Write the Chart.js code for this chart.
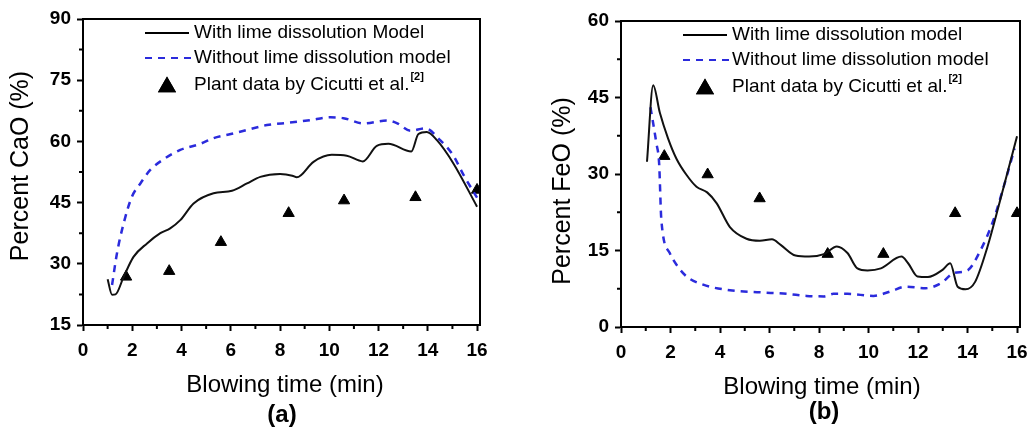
<!DOCTYPE html>
<html>
<head>
<meta charset="utf-8">
<script src="https://cdn.jsdelivr.net/npm/chart.js@4.4.1/dist/chart.umd.min.js"></script>
<style>
  html, body { margin: 0; padding: 0; background: #fff; overflow: hidden; width: 1027px; height: 431px; }
  canvas { position: absolute; top: 0; }
  #chartA { left: 0; }
  #chartB { left: 514px; }
</style>
</head>
<body>
<canvas id="chartA" width="513" height="431"></canvas>
<canvas id="chartB" width="540" height="431"></canvas>
<script>
// blowing time of the plant samples (min)
var plantTime = [1.75, 3.5, 5.6, 8.35, 10.6, 13.5, 16.0];

// (a) CaO
var withTimeA = [1.0, 1.18, 1.32, 1.65, 2.05, 2.6, 3.14, 3.54, 3.95, 4.49, 5.3, 6.05, 6.66, 7.2, 8.0, 8.5, 8.68, 9.36, 10.1, 10.71, 11.36, 11.93, 12.4, 13.33, 13.62, 13.96, 14.37, 15.04, 16.0];
var withCaO   = [26.2, 22.4, 22.5, 26.8, 31.7, 35.0, 37.5, 38.7, 40.7, 44.8, 47.3, 47.9, 49.7, 51.3, 52.0, 51.6, 51.2, 55.0, 56.7, 56.5, 55.1, 58.9, 59.4, 57.5, 61.8, 62.3, 60.3, 54.6, 44.0];
var noTimeA = [1.18, 1.38, 1.65, 1.99, 2.33, 2.73, 3.27, 3.95, 4.76, 5.3, 6.0, 6.66, 7.47, 8.4, 9.2, 10.04, 10.58, 11.39, 12.34, 12.74, 13.3, 13.9, 14.5, 15.04, 15.45, 16.0];
var noCaO   = [24.8, 32.6, 39.9, 46.5, 49.7, 53.0, 55.6, 57.9, 59.4, 60.8, 61.8, 62.8, 64.0, 64.6, 65.2, 65.9, 65.7, 64.4, 65.1, 64.5, 62.6, 63.2, 60.3, 56.5, 51.8, 46.2];
var plantCaO = [26.8, 28.2, 35.3, 42.4, 45.5, 46.3, 48.1];

// (b) FeO
var withTimeB = [1.05, 1.3, 1.57, 1.9, 2.24, 2.65, 3.05, 3.48, 3.86, 4.4, 5.07, 5.61, 6.1, 6.45, 7.05, 7.6, 8.2, 8.72, 9.15, 9.55, 9.96, 10.5, 11.33, 11.6, 11.98, 12.4, 12.99, 13.3, 13.6, 13.92, 14.3, 14.81, 15.3, 16.0];
var withFeO   = [32.4, 47.4, 42.0, 37.0, 33.0, 29.8, 27.5, 26.4, 24.3, 19.6, 17.3, 16.9, 17.2, 16.1, 14.0, 13.8, 14.3, 15.8, 14.5, 11.5, 11.1, 11.5, 13.8, 12.5, 9.9, 9.8, 11.2, 12.5, 7.9, 7.4, 8.8, 15.8, 24.5, 37.4];
var noTimeB = [1.19, 1.43, 1.54, 1.63, 1.97, 2.27, 2.65, 3.32, 4.4, 5.61, 6.69, 7.5, 8.2, 8.58, 9.15, 10.2, 10.9, 11.5, 12.3, 12.93, 13.46, 14.0, 14.52, 15.05, 15.46, 15.9];
var noFeO   = [43.1, 36.0, 32.1, 21.0, 14.5, 12.0, 9.9, 8.3, 7.2, 6.8, 6.5, 6.1, 6.0, 6.5, 6.5, 6.1, 7.0, 7.9, 7.6, 8.6, 10.6, 11.1, 15.0, 21.0, 27.5, 35.0];
var plantFeO = [33.5, 29.9, 25.2, 14.3, 14.3, 22.3, 22.3];

var xTicks = [0, 2, 4, 6, 8, 10, 12, 14, 16];
var FONT = "'Liberation Sans', Arial, sans-serif";
var BLUE = '#2b2bdc';

function pts(xs, ys) {
  return xs.map(function(x, i) { return {x: x, y: ys[i]}; });
}

// legend, frame, minor ticks and axis titles
var extras = {
  id: 'extras',
  afterDraw: function(chart, args, o) {
    var ctx = chart.ctx, a = chart.chartArea;
    var xs = chart.scales.x, ys = chart.scales.y;
    ctx.save();
    ctx.strokeStyle = '#000';
    ctx.lineWidth = 2;
    ctx.beginPath();
    ctx.moveTo(a.left, a.top); ctx.lineTo(a.right, a.top); ctx.lineTo(a.right, a.bottom);
    ctx.stroke();

    // minor ticks
    ctx.beginPath();
    for (var v = 1; v < 16; v += 2) {
      var px = xs.getPixelForValue(v);
      ctx.moveTo(px, a.bottom); ctx.lineTo(px, a.bottom + 4);
    }
    for (var w = o.yMin + 7.5; w < o.yMax; w += 15) {
      var py = ys.getPixelForValue(w);
      ctx.moveTo(a.left, py); ctx.lineTo(a.left - 4, py);
    }
    ctx.stroke();

    // titles
    ctx.fillStyle = '#000';
    ctx.textAlign = 'center';
    ctx.textBaseline = 'middle';
    ctx.font = '24px ' + FONT;
    ctx.fillText('Blowing time (min)', o.xTitle[0], o.xTitle[1]);
    ctx.font = 'bold 24px ' + FONT;
    ctx.fillText(o.panel, o.panelPos[0], o.panelPos[1]);
    ctx.save();
    ctx.translate(o.yTitle[0], o.yTitle[1]);
    ctx.rotate(-Math.PI / 2);
    ctx.font = '25px ' + FONT;
    ctx.fillText(o.yLabel, 0, 0);
    ctx.restore();

    // legend
    var lx = a.left + 62, tx = a.left + 111;
    var r1 = a.top + 14, r2 = a.top + 39, r3 = a.top + 66;
    ctx.lineWidth = 2;
    ctx.beginPath(); ctx.moveTo(lx, r1); ctx.lineTo(lx + 44, r1); ctx.stroke();
    ctx.strokeStyle = BLUE;
    ctx.setLineDash([7, 6]);
    ctx.beginPath(); ctx.moveTo(lx, r2); ctx.lineTo(lx + 46, r2); ctx.stroke();
    ctx.setLineDash([]);
    Chart.helpers.drawPoint(ctx, {pointStyle: 'triangle', radius: 10.5, rotation: 0}, lx + 22, r3 + 2);
    ctx.fillStyle = '#000';
    ctx.fill();
    ctx.textAlign = 'left';
    ctx.font = '19px ' + FONT;
    ctx.fillText(o.legend[0], tx, r1);
    ctx.fillText('Without lime dissolution model', tx, r2);
    var plant = 'Plant data by Cicutti et al.';
    ctx.fillText(plant, tx, r3);
    var pw = ctx.measureText(plant).width;
    ctx.font = 'bold 11px ' + FONT;
    ctx.fillText('[2]', tx + pw + 1, r3 - 8);
    ctx.restore();
  }
};

function makeChart(id, cfg) {
  return new Chart(document.getElementById(id), {
    type: 'line',
    data: {
      datasets: [{
        data: pts(cfg.withX, cfg.withY),
        borderColor: '#111',
        borderWidth: 2,
        pointRadius: 0,
        cubicInterpolationMode: 'monotone'
      }, {
        data: pts(cfg.noX, cfg.noY),
        borderColor: BLUE,
        borderWidth: 2.5,
        borderDash: [7, 6],
        pointRadius: 0,
        cubicInterpolationMode: 'monotone'
      }, {
        data: pts(plantTime, cfg.plantY),
        showLine: false,
        pointStyle: 'triangle',
        pointRadius: 6.5,
        backgroundColor: '#000',
        borderColor: '#000',
        borderWidth: 1
      }]
    },
    options: {
      responsive: false,
      animation: false,
      layout: { padding: { top: cfg.top, right: cfg.right, left: 0, bottom: 0 } },
      plugins: {
        legend: { display: false },
        tooltip: { enabled: false },
        extras: cfg.extras
      },
      scales: {
        x: {
          type: 'linear',
          min: 0,
          max: 16.12,
          afterFit: function(s) { s.height = cfg.xHeight; },
          afterBuildTicks: function(s) { s.ticks = xTicks.map(function(v) { return {value: v}; }); },
          ticks: { color: '#000', font: { family: FONT, size: 19, weight: 'bold' }, padding: 8, maxRotation: 0, includeBounds: false },
          grid: { drawOnChartArea: false, tickLength: 6, tickColor: '#000', tickWidth: 2 },
          border: { color: '#000', width: 2 }
        },
        y: {
          min: cfg.yMin,
          max: cfg.yMax,
          afterFit: function(s) { s.width = cfg.yWidth; },
          ticks: { stepSize: 15, color: '#000', font: { family: FONT, size: 19, weight: 'bold' }, padding: 6 },
          grid: { drawOnChartArea: false, tickLength: 6, tickColor: '#000', tickWidth: 2 },
          border: { color: '#000', width: 2 }
        }
      }
    },
    plugins: [extras]
  });
}

makeChart('chartA', {
  withX: withTimeA, withY: withCaO, noX: noTimeA, noY: noCaO, plantY: plantCaO,
  yMin: 15, yMax: 90, top: 19, right: 33, yWidth: 83, xHeight: 106,
  extras: { yMin: 15, yMax: 90, yLabel: 'Percent CaO (%)', panel: '(a)', legend: ['With lime dissolution Model'],
            yTitle: [21, 166], xTitle: [285, 385], panelPos: [282, 415] }
});

makeChart('chartB', {
  withX: withTimeB, withY: withFeO, noX: noTimeB, noY: noFeO, plantY: plantFeO,
  yMin: 0, yMax: 60, top: 21, right: 34, yWidth: 107, xHeight: 104,
  extras: { yMin: 0, yMax: 60, yLabel: 'Percent FeO (%)', panel: '(b)', legend: ['With lime dissolution model'],
            yTitle: [49, 191], xTitle: [308, 387], panelPos: [310, 412] }
});
</script>
</body>
</html>
